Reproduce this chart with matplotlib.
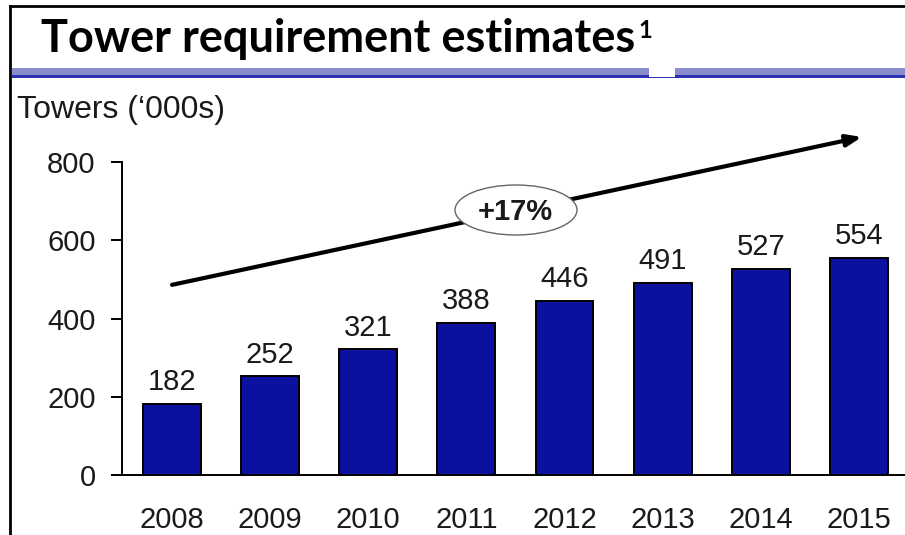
import matplotlib
matplotlib.use("Agg")
import matplotlib.pyplot as plt
from matplotlib.patches import Ellipse, Rectangle
from matplotlib.lines import Line2D

years = ["2008", "2009", "2010", "2011", "2012", "2013", "2014", "2015"]
towers = [182, 252, 321, 388, 446, 491, 527, 554]
yticks = [0, 200, 400, 600, 800]
cagr_label = "+17%"
arrow_start = (0, 486)
arrow_end = (7.03, 864)

W, H = 905, 535
fig = plt.figure(figsize=(W / 100, H / 100), dpi=100)
plt.rcParams['font.family'] = ['Liberation Sans', 'DejaVu Sans']

def fx(px):
    return px / W

def fy(py):
    return 1 - py / H

# axes: left x=122px, right x=905px, y=0 at 475px, 0.39125 px per unit
ymax = 900
ax_left, ax_right, ax_bottom = 122, 905, 475
ax_top = ax_bottom - ymax * 0.39125
ax = fig.add_axes([fx(ax_left), fy(ax_bottom), fx(ax_right - ax_left), (ax_bottom - ax_top) / H])

x = list(range(len(years)))
ax.bar(x, towers, width=0.59, color="#0b109e", edgecolor="black", linewidth=1.4, zorder=3)
for xi, v in zip(x, towers):
    ax.annotate(str(v), (xi, v), xytext=(0, 10), textcoords="offset points",
                ha="center", va="baseline", fontsize=21, color="#1a1a1a")

ax.set_xlim(-0.51, 7.47)
ax.set_ylim(0, ymax)
ax.set_xticks(x)
ax.set_xticklabels(years)
ax.set_yticks(yticks)
ax.tick_params(axis="x", length=0, pad=22, labelsize=21, labelcolor="#1a1a1a")
ax.tick_params(axis="y", length=8, width=1.4, pad=11, labelsize=21, labelcolor="#1a1a1a", direction="out")
for s in ["top", "right"]:
    ax.spines[s].set_visible(False)
ax.spines["left"].set_bounds(0, 800)
ax.spines["left"].set_linewidth(1.4)
ax.spines["bottom"].set_linewidth(1.4)
ax.patch.set_visible(False)

# trend arrow
ax.annotate("", xy=arrow_end, xytext=arrow_start,
            arrowprops=dict(arrowstyle="-|>,head_length=0.9,head_width=0.35", lw=3, color="black",
                            shrinkA=0, shrinkB=0), zorder=4, annotation_clip=False)

# ellipse with CAGR label
ell = Ellipse((fx(516), fy(210)), fx(122), 50 / H, transform=fig.transFigure,
              facecolor="white", edgecolor="#666666", linewidth=1.0, zorder=10)
fig.patches.append(ell)
fig.text(fx(515), fy(212), cagr_label, ha="center", va="center", fontsize=21,
         fontweight="bold", color="#1a1a1a", zorder=11)

# y-axis label
fig.text(fx(17), fy(110), "Towers (\u2018000s)", ha="left", va="center", fontsize=23, color="#1a1a1a")

# title
title = fig.text(fx(41), fy(52), "Tower requirement estimates", ha="left", va="baseline",
                 fontsize=32.5, fontweight="bold", family=["Lato", "DejaVu Sans"], color="black")
fig.canvas.draw()
bb = title.get_window_extent(fig.canvas.get_renderer())
fig.text(bb.x1 / W + fx(3), fy(38), "1", ha="left", va="baseline", fontsize=17, fontweight="bold",
         family=["Lato", "DejaVu Sans"], color="black")

# title rule
fig.patches.append(Rectangle((fx(12), fy(75)), fx(W - 12), 7 / H, transform=fig.transFigure,
                             facecolor="#8a8dcc", edgecolor="none"))
fig.patches.append(Rectangle((fx(12), fy(78)), fx(W - 12), 3 / H, transform=fig.transFigure,
                             facecolor="#2d33b0", edgecolor="none"))
fig.patches.append(Rectangle((fx(649), fy(77)), fx(26), 10 / H, transform=fig.transFigure,
                             facecolor="white", edgecolor="none"))

# outer frame
fig.lines.append(Line2D([fx(10), fx(W)], [fy(6), fy(6)], transform=fig.transFigure, color="black", lw=2))
fig.lines.append(Line2D([fx(10), fx(10)], [fy(6), fy(H)], transform=fig.transFigure, color="black", lw=2))

fig.savefig("out.png", dpi=100)
